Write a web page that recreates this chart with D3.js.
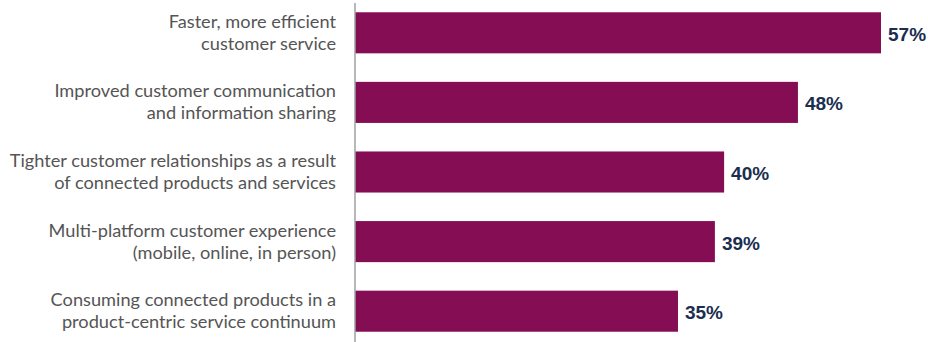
<!DOCTYPE html>
<html><head><meta charset="utf-8">
<script src="https://cdn.jsdelivr.net/npm/d3@7"></script>
<style>body{margin:0;background:#fff}svg{display:block}</style>
</head><body>
<svg id="c" width="928" height="342"></svg>
<script>
const categories = [
  ["Faster, more efficient", "customer service"],
  ["Improved customer communication", "and information sharing"],
  ["Tighter customer relationships as a result", "of connected products and services"],
  ["Multi-platform customer experience", "(mobile, online, in person)"],
  ["Consuming connected products in a", "product-centric service continuum"]
];
const values = [57, 48, 40, 39, 35];
const valueLabels = ["57%", "48%", "40%", "39%", "35%"];

const svg = d3.select("#c");
const x = d3.scaleLinear().domain([0, 57]).range([355, 881]);
const y = d3.scaleBand().domain(d3.range(values.length)).range([-2, 346]).paddingInner(0.41).paddingOuter(0.205);

svg.selectAll("rect.bar").data(values).join("rect")
  .attr("class", "bar")
  .attr("x", x(0))
  .attr("y", (d, i) => y(i))
  .attr("width", d => x(d) - x(0))
  .attr("height", y.bandwidth())
  .attr("fill", "#850D54");

svg.append("line").attr("x1", x(0)).attr("x2", x(0)).attr("y1", 3).attr("y2", 342)
  .attr("stroke", "#a0a0a0").attr("stroke-width", 1.5);

svg.selectAll("text.val").data(values).join("text")
  .attr("class", "val")
  .attr("x", d => x(d) + 7)
  .attr("y", (d, i) => y(i) + y.bandwidth() / 2 + 8)
  .attr("font-family", "Liberation Sans, Arial, sans-serif")
  .attr("font-weight", "bold")
  .attr("font-size", 19)
  .attr("fill", "#1a2e4f")
  .text((d, i) => valueLabels[i]);

const cat = svg.selectAll("text.cat").data(categories).join("text")
  .attr("class", "cat")
  .attr("text-anchor", "end")
  .attr("font-family", "Lato, sans-serif")
  .attr("font-size", 18.2)
  .attr("fill", "#555555");
cat.each(function(lines, i) {
  const t = d3.select(this);
  const cy = y(i) + y.bandwidth() / 2;
  lines.forEach((l, j) => {
    t.append("tspan").attr("x", 336).attr("y", cy - 5 + j * 22).text(l);
  });
});
</script>
</body></html>
